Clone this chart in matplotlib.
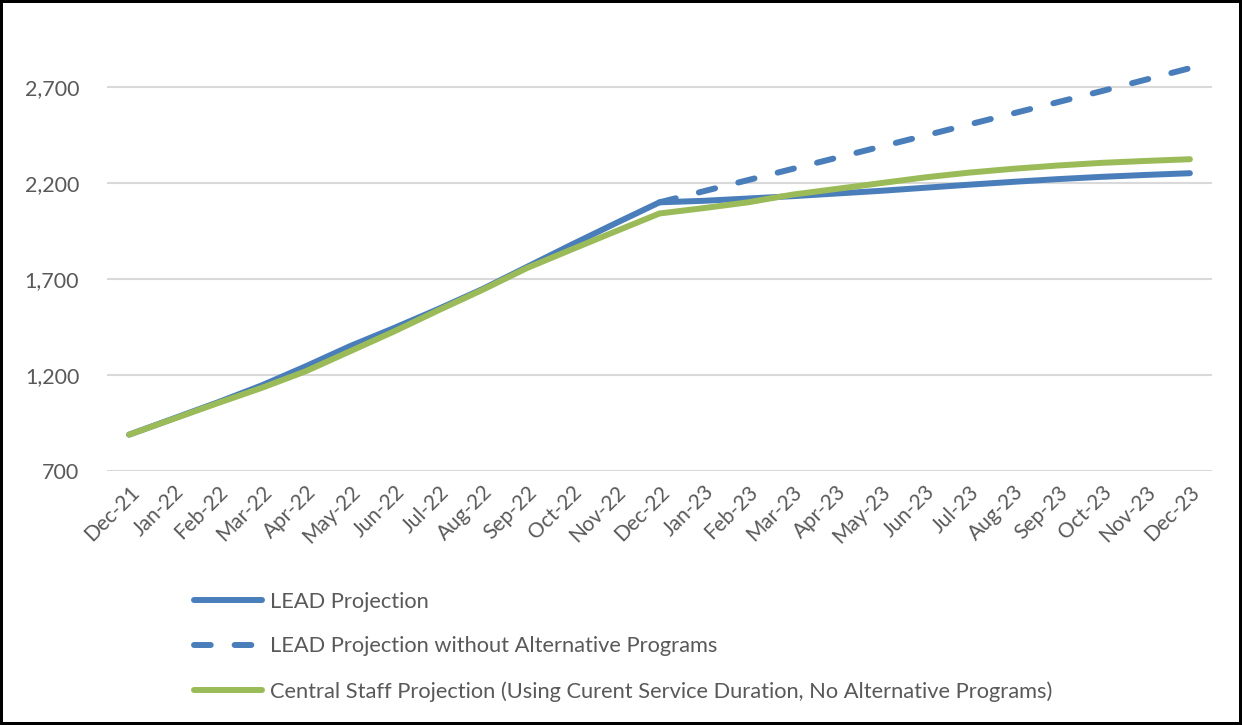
import matplotlib
matplotlib.use("Agg")
import matplotlib.pyplot as plt
import numpy as np

months = ["Dec-21", "Jan-22", "Feb-22", "Mar-22", "Apr-22", "May-22", "Jun-22",
          "Jul-22", "Aug-22", "Sep-22", "Oct-22", "Nov-22", "Dec-22",
          "Jan-23", "Feb-23", "Mar-23", "Apr-23", "May-23", "Jun-23",
          "Jul-23", "Aug-23", "Sep-23", "Oct-23", "Nov-23", "Dec-23"]

lead_projection = [888, 972, 1056, 1145, 1245, 1350, 1445, 1544, 1648, 1763, 1878, 1990, 2100,
                   2108, 2120, 2132, 2146, 2160, 2176, 2192, 2207, 2221, 2233, 2243, 2252]

lead_no_alt = [None] * 12 + [2100, 2158, 2216, 2274, 2332, 2390, 2448, 2506, 2564, 2622,
                             2680, 2740, 2800]

central_staff = [888, 970, 1052, 1132, 1219, 1323, 1427, 1537, 1644, 1757, 1853, 1948, 2042,
                 2070, 2100, 2140, 2170, 2200, 2230, 2255, 2275, 2292, 2306, 2316, 2325]

labels = ["LEAD Projection",
          "LEAD Projection without Alternative Programs",
          "Central Staff Projection (Using Curent Service Duration, No Alternative Programs)"]

yticks = [700, 1200, 1700, 2200, 2700]

BLUE = "#4A7EBB"
GREEN = "#9BBB59"
TXT = "#595959"

plt.rcParams['font.family'] = ['Lato', 'DejaVu Sans']

fig = plt.figure(figsize=(12.42, 7.25), dpi=100)
ax = fig.add_axes([107 / 1242, 1 - 470.7 / 725, 1105 / 1242, (470.7 - 49) / 725])

x = np.arange(len(months))
dash_vals = np.array([np.nan if v is None else v for v in lead_no_alt], dtype=float)

lw = 4.3
l1, = ax.plot(x, lead_projection, color=BLUE, lw=lw, solid_capstyle='round',
              solid_joinstyle='round', label=labels[0], zorder=3)
l2, = ax.plot(x, dash_vals, color=BLUE, lw=lw, dashes=(2.8, 4.0),
              dash_capstyle='round', label=labels[1], zorder=3)
l3, = ax.plot(x, central_staff, color=GREEN, lw=lw, solid_capstyle='round',
              solid_joinstyle='round', label=labels[2], zorder=4)

ax.set_xlim(-0.5, len(months) - 0.5)
ax.set_ylim(700, 2900)
ax.set_yticks(yticks)
ax.set_yticklabels([f"{v:,}" for v in yticks], fontsize=15.5, color=TXT)
ax.yaxis.grid(True, color="#D9D9D9", lw=1.5)
ax.set_axisbelow(True)
for s in ax.spines.values():
    s.set_visible(False)
ax.tick_params(axis='y', length=0, pad=20)
ax.tick_params(axis='x', length=0, pad=8)
ax.set_xticks(x)
ax.set_xticklabels(months, rotation=45, ha='right', va='top', rotation_mode='anchor',
                   fontsize=15, color=TXT)

leg = fig.legend(handles=[l1, l2, l3], loc='upper left',
                 bbox_to_anchor=(185 / 1242, 1 - 583 / 725), frameon=False,
                 fontsize=15.75, labelcolor=TXT, handlelength=3.1, handletextpad=0.4,
                 labelspacing=1.13, borderaxespad=0)

fig.patch.set_edgecolor("black")
fig.patch.set_linewidth(3)

fig.savefig("out.png", dpi=100, edgecolor=fig.get_edgecolor())
